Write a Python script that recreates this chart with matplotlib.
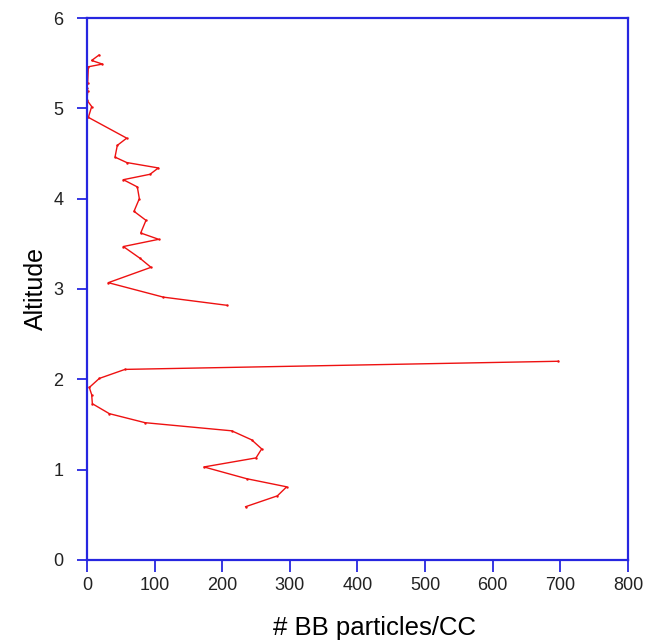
import numpy as np
import matplotlib
matplotlib.use("Agg")
import matplotlib.pyplot as plt

plt.rcParams['font.family'] = ['Liberation Sans', 'DejaVu Sans']

# BB particle concentration vs altitude (NaN = gap in the profile)
bb_particles = [17.7, 6.9, 22.7, 2, 1, 0, 1, 0, 6.9, 2,
                58.7, 44.8, 41.4, 58.7, 105.5, 93.2, 53.7, 74.4, 77.4, 69.5,
                87.2, 79.4, 106, 53.7, 78.4, 94.6, 31.5, 112.8, 206.5,
                np.nan,
                697, 56.2, 18.2, 3.4, 6.9, 7.9, 33, 85.8, 214, 243.5,
                258.3, 249.9, 173, 236, 295.3, 281.5, 234.6]
altitude = [5.59, 5.53, 5.49, 5.46, 5.28, 5.23, 5.19, 5.09, 5.02, 4.90,
            4.67, 4.59, 4.46, 4.40, 4.34, 4.27, 4.21, 4.13, 4.00, 3.86,
            3.76, 3.62, 3.55, 3.47, 3.34, 3.24, 3.07, 2.91, 2.82,
            np.nan,
            2.20, 2.11, 2.01, 1.91, 1.83, 1.73, 1.62, 1.52, 1.43, 1.33,
            1.23, 1.13, 1.03, 0.90, 0.81, 0.71, 0.59]

x_ticks = [0, 100, 200, 300, 400, 500, 600, 700, 800]
y_ticks = [0, 1, 2, 3, 4, 5, 6]

blue = '#2626e0'

fig = plt.figure(figsize=(6.45, 6.43), dpi=100)
ax = fig.add_axes([0.1349, 0.1291, 0.8387, 0.8429])

ax.plot(bb_particles, altitude, color='#ee1111', linewidth=1.0,
        marker='.', markersize=1.5)

ax.set_xlim(0, 800)
ax.set_ylim(0, 6)
ax.set_xticks(x_ticks)
ax.set_yticks(y_ticks)

for sp in ax.spines.values():
    sp.set_color(blue)
    sp.set_linewidth(1.6)

ax.tick_params(direction='out', width=1.3, color=blue, labelcolor='#222222',
               labelsize=13)
ax.tick_params(axis='x', length=8.5, pad=4)
ax.tick_params(axis='y', length=7, pad=10)

ax.set_xlabel('# BB particles/CC', fontsize=18.5)
ax.xaxis.set_label_coords(0.532, -0.104)
ax.xaxis.label.set_va('top')
ax.set_ylabel('Altitude', fontsize=18, labelpad=4)

fig.savefig('out.png', dpi=100)
